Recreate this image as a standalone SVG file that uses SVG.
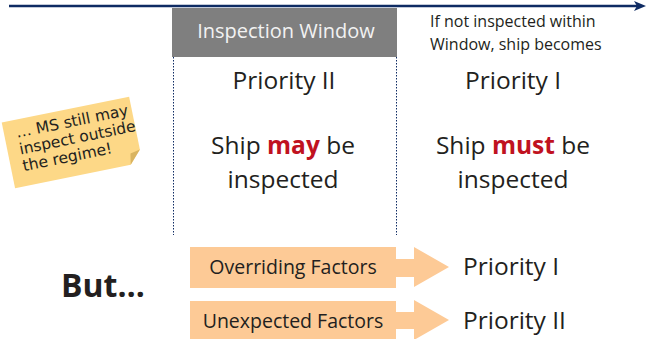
<svg xmlns="http://www.w3.org/2000/svg" width="647" height="339" viewBox="0 0 647 339">
<style>
.t{font-family:"Open Sans","Noto Sans","DejaVu Sans",sans-serif;fill:#231f20}
.big{font-size:24.5px}
.red{fill:#c0121f;font-weight:bold}
.arr{fill:#fdca96}
.dot{stroke:#0e2b63;stroke-width:1;stroke-dasharray:1.5 1.5;fill:none}
.nt{font-family:"DejaVu Sans",sans-serif;font-size:15.5px;fill:#231f20}
</style>
<rect width="647" height="339" fill="#ffffff"/>
<g id="connectors">
<line x1="9" y1="6" x2="638" y2="6" stroke="#0e2b63" stroke-width="2.6"/>
<path d="M634,1 L646,6 L634,11 L637,6 Z" fill="#0e2b63"/>
<line class="dot" x1="173.5" y1="36" x2="173.5" y2="235"/>
<line class="dot" x1="396.5" y1="36" x2="396.5" y2="235"/>
</g>
<g id="window">
<rect x="172" y="8" width="225" height="49" fill="#7f7f7f"/>
<text class="t" x="286" y="38" font-size="20" text-anchor="middle" style="fill:#f2f2f2">Inspection Window</text>
</g>
<g id="note-right">
<text class="t" x="430" y="27" font-size="16">If not inspected within</text>
<text class="t" x="430" y="50" font-size="16">Window, ship becomes</text>
</g>
<g id="col-left">
<text class="t big" x="284" y="89" text-anchor="middle">Priority II</text>
<text class="t big" x="283" y="154" text-anchor="middle">Ship <tspan class="red">may</tspan> be</text>
<text class="t big" x="283" y="188" text-anchor="middle">inspected</text>
</g>
<g id="col-right">
<text class="t big" x="513" y="89" text-anchor="middle">Priority I</text>
<text class="t big" x="513" y="154" text-anchor="middle">Ship <tspan class="red">must</tspan> be</text>
<text class="t big" x="513" y="188" text-anchor="middle">inspected</text>
</g>
<g id="sticky" transform="rotate(-11.5 72 142)">
<path d="M7,109 H137 V163 L125,176 H7 Z" fill="#fdd887"/>
<path d="M137,163 L125,176 L127,165 Z" fill="#d9b461"/>
<text class="nt" x="19" y="127">… MS still may</text>
<text class="nt" x="19" y="144">inspect outside</text>
<text class="nt" x="19" y="161">the regime!</text>
</g>
<g id="but">
<text class="t" x="61" y="297" font-size="32" font-weight="bold">But…</text>
</g>
<g id="overriding">
<path class="arr" d="M190,247 H396 V259 H414 V247 L449,267 L414,287 V277 H396 V288 H190 Z"/>
<text class="t" x="293" y="274" font-size="19.5" text-anchor="middle">Overriding Factors</text>
</g>
<g id="unexpected">
<path class="arr" d="M190,301 H396 V312 H414 V300 L449,320 L414,340 V329 H396 V339 H190 Z"/>
<text class="t" x="293" y="328" font-size="19.5" text-anchor="middle">Unexpected Factors</text>
</g>
<g id="res1">
<text class="t big" x="463" y="275">Priority I</text>
</g>
<g id="res2">
<text class="t big" x="463" y="329">Priority II</text>
</g>
</svg>
